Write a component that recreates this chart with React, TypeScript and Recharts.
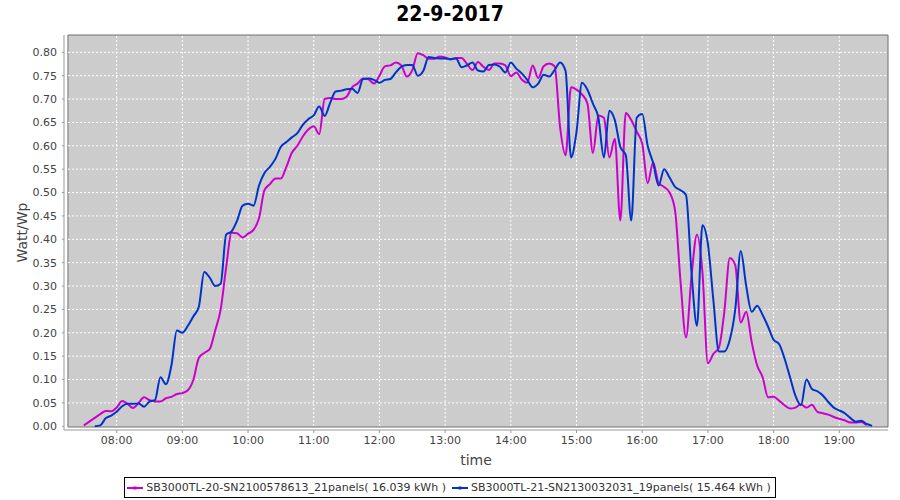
import { LineChart, Line, XAxis, YAxis, ReferenceArea, ReferenceLine } from 'recharts';

// 5-minute samples, 22-9-2017
const times = [
  '07:30', '07:35', '07:40', '07:45', '07:50', '07:55',
  '08:00', '08:05', '08:10', '08:15', '08:20', '08:25', '08:30', '08:35', '08:40', '08:45', '08:50', '08:55',
  '09:00', '09:05', '09:10', '09:15', '09:20', '09:25', '09:30', '09:35', '09:40', '09:45', '09:50', '09:55',
  '10:00', '10:05', '10:10', '10:15', '10:20', '10:25', '10:30', '10:35', '10:40', '10:45', '10:50', '10:55',
  '11:00', '11:05', '11:10', '11:15', '11:20', '11:25', '11:30', '11:35', '11:40', '11:45', '11:50', '11:55',
  '12:00', '12:05', '12:10', '12:15', '12:20', '12:25', '12:30', '12:35', '12:40', '12:45', '12:50', '12:55',
  '13:00', '13:05', '13:10', '13:15', '13:20', '13:25', '13:30', '13:35', '13:40', '13:45', '13:50', '13:55',
  '14:00', '14:05', '14:10', '14:15', '14:20', '14:25', '14:30', '14:35', '14:40', '14:45', '14:50', '14:55',
  '15:00', '15:05', '15:10', '15:15', '15:20', '15:25', '15:30', '15:35', '15:40', '15:45', '15:50', '15:55',
  '16:00', '16:05', '16:10', '16:15', '16:20', '16:25', '16:30', '16:35', '16:40', '16:45', '16:50', '16:55',
  '17:00', '17:05', '17:10', '17:15', '17:20', '17:25', '17:30', '17:35', '17:40', '17:45', '17:50', '17:55',
  '18:00', '18:05', '18:10', '18:15', '18:20', '18:25', '18:30', '18:35', '18:40', '18:45', '18:50', '18:55',
  '19:00', '19:05', '19:10', '19:15', '19:20', '19:25', '19:30',
];

// SB3000TL-20 (21 panels), Watt/Wp
const sb20 = [
  0.002, 0.01, 0.018, 0.026, 0.033, 0.032,
  0.04, 0.054, 0.048, 0.039, 0.05, 0.062, 0.056, 0.053, 0.053, 0.06, 0.063, 0.069,
  0.071, 0.077, 0.099, 0.146, 0.157, 0.165, 0.205, 0.25, 0.34, 0.414, 0.413, 0.404,
  0.412, 0.42, 0.445, 0.505, 0.518, 0.53, 0.53, 0.555, 0.585, 0.6, 0.62, 0.635,
  0.642, 0.625, 0.7, 0.702, 0.7, 0.7, 0.705, 0.725, 0.733, 0.744, 0.742, 0.733,
  0.75, 0.77, 0.772, 0.778, 0.772, 0.748, 0.762, 0.798, 0.794, 0.786, 0.786, 0.791,
  0.789, 0.785, 0.788, 0.788, 0.775, 0.762, 0.779, 0.769, 0.762, 0.776, 0.776, 0.772,
  0.749, 0.757, 0.742, 0.735, 0.772, 0.745, 0.77, 0.776, 0.77, 0.64, 0.58, 0.725,
  0.72, 0.71, 0.69, 0.585, 0.665, 0.66, 0.575, 0.615, 0.44, 0.67, 0.655, 0.63,
  0.605, 0.52, 0.565, 0.52, 0.512, 0.5, 0.462, 0.31, 0.19, 0.32, 0.41, 0.33,
  0.135, 0.155, 0.168, 0.245, 0.36, 0.345, 0.222, 0.245, 0.18, 0.13, 0.105, 0.062,
  0.063, 0.055, 0.045, 0.038, 0.04, 0.047, 0.04, 0.046, 0.031, 0.028, 0.025, 0.02,
  0.016, 0.013, 0.008, 0.008, 0.009, 0.002, null,
];

// SB3000TL-21 (19 panels), Watt/Wp
const sb21 = [
  null, null, 0.0, 0.002, 0.017, 0.023,
  0.031, 0.043, 0.048, 0.048, 0.049, 0.042, 0.053, 0.056, 0.105, 0.09, 0.13, 0.205,
  0.2, 0.215, 0.235, 0.255, 0.33, 0.318, 0.3, 0.305, 0.41, 0.417, 0.44, 0.472,
  0.476, 0.472, 0.515, 0.542, 0.555, 0.572, 0.598, 0.608, 0.618, 0.627, 0.645, 0.657,
  0.665, 0.684, 0.664, 0.692, 0.716, 0.718, 0.721, 0.722, 0.713, 0.743, 0.744, 0.741,
  0.735, 0.741, 0.743, 0.757, 0.769, 0.773, 0.773, 0.75, 0.76, 0.79, 0.788, 0.787,
  0.787, 0.785, 0.787, 0.768, 0.772, 0.778, 0.761, 0.759, 0.773, 0.774, 0.769, 0.757,
  0.778, 0.765, 0.755, 0.741, 0.725, 0.733, 0.752, 0.748, 0.762, 0.778, 0.76, 0.575,
  0.63, 0.735, 0.72, 0.69, 0.66, 0.575, 0.675, 0.655, 0.598, 0.58, 0.44, 0.66,
  0.668, 0.6, 0.563, 0.515, 0.55, 0.532, 0.512, 0.505, 0.495, 0.33, 0.215, 0.43,
  0.39, 0.27, 0.16, 0.16, 0.185, 0.25, 0.375, 0.3, 0.245, 0.258, 0.238, 0.213,
  0.185, 0.176, 0.145, 0.105, 0.065, 0.045, 0.1, 0.08, 0.075, 0.066, 0.052, 0.04,
  0.034, 0.028, 0.018, 0.01, 0.012, 0.005, 0.001,
];

const xTickLabels = ['08:00', '09:00', '10:00', '11:00', '12:00', '13:00', '14:00', '15:00', '16:00', '17:00', '18:00', '19:00'];
const yTicks = [0, 0.05, 0.1, 0.15, 0.2, 0.25, 0.3, 0.35, 0.4, 0.45, 0.5, 0.55, 0.6, 0.65, 0.7, 0.75, 0.8];

const series = [
  { key: 'sb20', name: 'SB3000TL-20-SN2100578613_21panels( 16.039 kWh )', color: '#cc00cc' },
  { key: 'sb21', name: 'SB3000TL-21-SN2130032031_19panels( 15.464 kWh )', color: '#0033cc' },
];

const toMin = (s: string) => {
  const [h, m] = s.split(':').map(Number);
  return h * 60 + m;
};
const fmtMin = (v: number) => {
  const h = Math.floor(v / 60);
  const m = Math.round(v - h * 60);
  return `${String(h).padStart(2, '0')}:${String(m).padStart(2, '0')}`;
};

const rows = times.map((t, i) => ({ t: toMin(t), sb20: sb20[i], sb21: sb21[i] }));
const xTicks = xTickLabels.map(toMin);

// axis ranges (the axis lines sit a few px outside the grey plot box)
const X_MIN = 431.9;
const X_MAX = 1184.5;
const PLOT_X0 = 435.5;
const Y_MIN = -0.0079;
const Y_MAX = 0.837;
const PLOT_Y0 = -0.0015;

const FONT = "'DejaVu Sans', sans-serif";
const tickStyle = { fill: '#444444', fontSize: 11, fontFamily: FONT };

function LegendMarker({ color }: { color: string }) {
  return (
    <svg width={16} height={10} style={{ display: 'block' }}>
      <line x1={0} x2={16} y1={5} y2={5} stroke={color} strokeWidth={2} />
      <rect x={6.5} y={3.5} width={3} height={3} fill={color} />
    </svg>
  );
}

export default function App() {
  return (
    <div style={{ position: 'absolute', left: 0, top: 0, width: 900, height: 500, background: '#ffffff', fontFamily: FONT }}>
      <div
        style={{
          position: 'absolute',
          top: 0,
          left: 0,
          width: 900,
          textAlign: 'center',
          fontSize: 21,
          lineHeight: '28px',
          fontWeight: 'bold',
          fontFamily: "'DejaVu Sans Condensed', 'DejaVu Sans', sans-serif",
          fontStretch: 'condensed',
          color: '#000000',
        }}
      >
        22-9-2017
      </div>

      <LineChart
        width={900}
        height={500}
        data={rows}
        margin={{ top: 35, right: 12, bottom: 30, left: 0 }}
        style={{ position: 'absolute', left: 0, top: 0 }}
      >
        <ReferenceArea x1={PLOT_X0} x2={X_MAX} y1={PLOT_Y0} y2={Y_MAX} fill="#cccccc" fillOpacity={1} stroke="none" />
        {yTicks
          .filter((v) => v > 0)
          .map((v) => (
            <ReferenceLine key={`h${v}`} y={v} stroke="#ffffff" strokeDasharray="2 2" strokeWidth={1} />
          ))}
        {xTicks.map((v) => (
          <ReferenceLine key={`v${v}`} x={v} stroke="#ffffff" strokeDasharray="2 2" strokeWidth={1} />
        ))}
        <XAxis
          dataKey="t"
          type="number"
          domain={[X_MIN, X_MAX]}
          allowDataOverflow
          ticks={xTicks}
          interval={0}
          tickFormatter={fmtMin}
          tick={tickStyle}
          tickSize={3}
          tickMargin={3}
          stroke="#999999"
          height={40}
          label={{ value: 'time', position: 'insideBottom', offset: 5, fill: '#444444', fontSize: 14, fontFamily: FONT }}
        />
        <YAxis
          type="number"
          domain={[Y_MIN, Y_MAX]}
          allowDataOverflow
          ticks={yTicks}
          interval={0}
          tickFormatter={(v: number) => v.toFixed(2)}
          tick={tickStyle}
          tickSize={2}
          tickMargin={5}
          stroke="#999999"
          width={64}
          label={{
            value: 'Watt/Wp',
            angle: -90,
            position: 'insideLeft',
            offset: 22,
            fill: '#444444',
            fontSize: 14,
            fontFamily: FONT,
            style: { textAnchor: 'middle' },
          }}
        />
        {series.map((s) => (
          <Line
            key={s.key}
            dataKey={s.key}
            name={s.name}
            type="monotone"
            stroke={s.color}
            strokeWidth={2}
            dot={false}
            activeDot={false}
            isAnimationActive={false}
          />
        ))}
        <ReferenceArea x1={PLOT_X0} x2={X_MAX} y1={PLOT_Y0} y2={Y_MAX} fill="none" stroke="#707070" strokeWidth={1} />
      </LineChart>

      <div style={{ position: 'absolute', left: 0, top: 477, width: 900, display: 'flex', justifyContent: 'center' }}>
        <div
          style={{
            display: 'flex',
            alignItems: 'center',
            height: 21,
            boxSizing: 'border-box',
            border: '1px solid #000000',
            padding: '0 4px 0 2px',
            fontSize: 11,
            color: '#333333',
            gap: 6,
          }}
        >
          {series.map((s) => (
            <div key={s.key} style={{ display: 'flex', alignItems: 'center', gap: 3 }}>
              <LegendMarker color={s.color} />
              <span>{s.name}</span>
            </div>
          ))}
        </div>
      </div>
    </div>
  );
}
